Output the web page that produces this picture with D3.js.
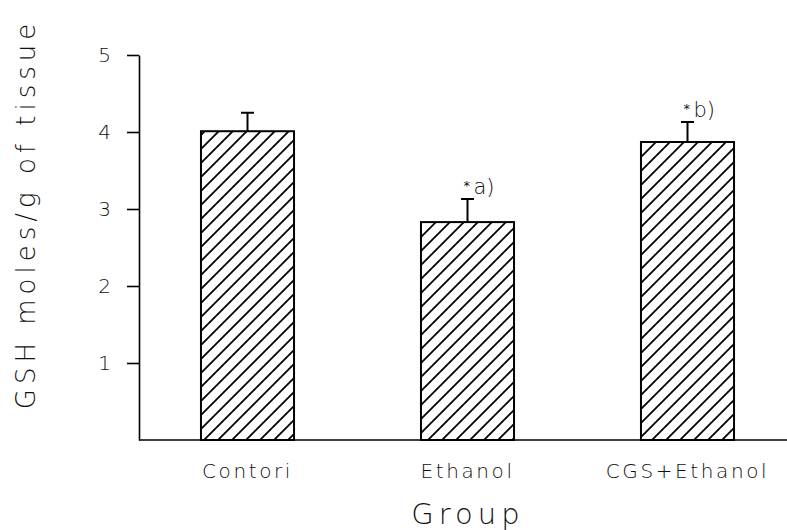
<!DOCTYPE html>
<html>
<head>
<meta charset="utf-8">
<script src="https://cdn.jsdelivr.net/npm/d3@7"></script>
<style>
  html, body { margin: 0; padding: 0; background: #fff; }
  svg { display: block; }
  text { font-family: "DejaVu Sans", "Liberation Sans", sans-serif; fill: #111; }
  .thin { font-weight: 200; }
</style>
</head>
<body>
<svg id="chart" width="787" height="530"></svg>
<script>
const categories = ["Contori", "Ethanol", "CGS+Ethanol"];
const means = [4.01, 2.83, 3.87];
const errors = [0.24, 0.30, 0.26];
const annotations = ["", "a)", "b)"];
const yTicks = [1, 2, 3, 4, 5];
const yTitle = "GSH  moles/g of tissue";
const xTitle = "Group";

const svg = d3.select("#chart");

const y = d3.scaleLinear().domain([0, 5]).range([440, 55]);
const x = d3.scaleBand().domain(categories).range([137.5, 797.5])
  .paddingInner(0.577).paddingOuter(0.2885);

// hatch pattern
const defs = svg.append("defs");
const pat = defs.append("pattern").attr("id", "hatch")
  .attr("patternUnits", "userSpaceOnUse").attr("width", 14).attr("height", 14);
pat.append("path").attr("d", "M-2,16 L16,-2 M-4,4 L4,-4 M10,18 L18,10")
  .attr("stroke", "#000").attr("stroke-width", 1.8).attr("fill", "none");

const data = categories.map((c, i) => ({ c, m: means[i], e: errors[i], a: annotations[i] }));
const cx = d => x(d.c) + x.bandwidth() / 2;

// bars
svg.selectAll("rect.bar").data(data).join("rect").attr("class", "bar")
  .attr("x", d => x(d.c)).attr("width", x.bandwidth())
  .attr("y", d => y(d.m)).attr("height", d => y(0) - y(d.m))
  .attr("fill", "url(#hatch)").attr("stroke", "#000").attr("stroke-width", 2);

// error bars (upper only)
svg.selectAll("line.err").data(data).join("line").attr("class", "err")
  .attr("x1", cx).attr("x2", cx)
  .attr("y1", d => y(d.m)).attr("y2", d => y(d.m + d.e))
  .attr("stroke", "#000").attr("stroke-width", 2);
svg.selectAll("line.cap").data(data).join("line").attr("class", "cap")
  .attr("x1", d => cx(d) - 6.5).attr("x2", d => cx(d) + 6.5)
  .attr("y1", d => y(d.m + d.e)).attr("y2", d => y(d.m + d.e))
  .attr("stroke", "#000").attr("stroke-width", 2);

// annotations
const ann = svg.selectAll("g.ann").data(data.filter(d => d.a)).join("g").attr("class", "ann");
ann.append("text").attr("x", d => cx(d) - 4).attr("y", d => y(d.m + d.e) - 9)
  .attr("font-size", 13).text("*");
ann.append("text").attr("class", "thin").attr("x", d => cx(d) + 6).attr("y", d => y(d.m + d.e) - 5)
  .attr("font-size", 21).text(d => d.a);

// y axis
const yAxis = svg.append("g").attr("transform", "translate(139,0)")
  .call(d3.axisLeft(y).tickValues(yTicks).tickSize(12).tickSizeOuter(0).tickPadding(16).tickFormat(d3.format("d")));
yAxis.select(".domain").attr("stroke", "#000").attr("stroke-width", 1.6);
yAxis.selectAll(".tick line").attr("stroke", "#000").attr("stroke-width", 1.6);
yAxis.selectAll(".tick text").attr("class", "thin").attr("font-size", 20)
  .attr("font-family", "DejaVu Sans, sans-serif").attr("fill", "#111");

// x axis
const xAxis = svg.append("g").attr("transform", "translate(0,440)")
  .call(d3.axisBottom(x).tickSize(0).tickSizeOuter(0).tickPadding(24));
xAxis.select(".domain").attr("stroke", "#000").attr("stroke-width", 1.6)
  .attr("d", "M139,0H787");
xAxis.selectAll(".tick text").attr("class", "thin").attr("font-size", 20).attr("letter-spacing", 2.6)
  .attr("font-family", "DejaVu Sans, sans-serif").attr("fill", "#111");

// axis titles
svg.append("text").attr("class", "thin").attr("x", 468).attr("y", 524).attr("text-anchor", "middle")
  .attr("font-size", 29).attr("letter-spacing", 5).text(xTitle);
svg.append("text").attr("class", "thin").attr("transform", "translate(35,214) rotate(-90)")
  .attr("text-anchor", "middle").attr("font-size", 26).attr("letter-spacing", 5)
  .text(yTitle);
</script>
</body>
</html>
